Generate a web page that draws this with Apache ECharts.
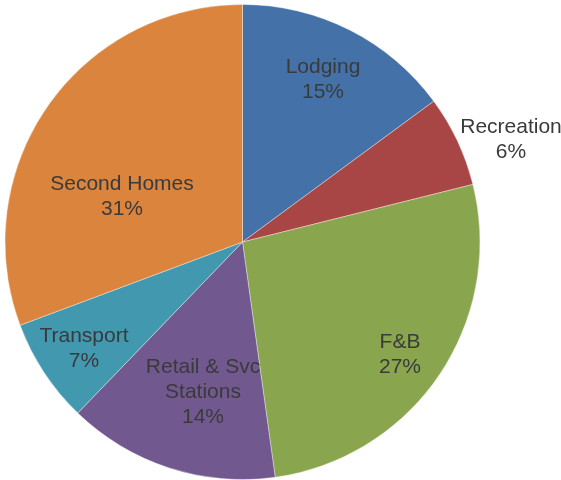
<!DOCTYPE html>
<html>
<head>
<meta charset="utf-8">
<script src="https://cdn.jsdelivr.net/npm/echarts@6/dist/echarts.min.js"></script>
<style>
  html, body { margin: 0; padding: 0; background: #fff; }
  #chart { width: 561px; height: 480px; }
</style>
</head>
<body>
<div id="chart"></div>
<script>
// Данные диаграммы (доли, %)
const categories = ['Lodging', 'Recreation', 'F&B', 'Retail & Svc\nStations', 'Transport', 'Second Homes'];
const shares = [14.9, 6.2, 26.7, 14.4, 7.1, 30.7];

const colors = ['#4472a8', '#a84645', '#89a54e', '#71588f', '#4198af', '#db843d'];
// центры подписей (в пикселях)
const labelPos = [[323, 80], [511, 140], [400, 355], [203, 392], [84, 349], [122, 197]];

const chart = echarts.init(document.getElementById('chart'));

const option = {
    animation: false,
    series: [{
        type: 'pie',
        center: [242.5, 242],
        radius: 237.5,
        startAngle: 90,
        clockwise: true,
        data: categories.map((name, i) => ({
            name: name,
            value: shares[i],
            itemStyle: { color: colors[i] }
        })),
        itemStyle: { borderColor: 'rgba(255,255,255,0.6)', borderWidth: 0.6 },
        label: {
            show: true,
            position: 'inside',
            formatter: (p) => p.name + '\n' + Math.round(p.percent) + '%',
            fontFamily: 'Liberation Sans, Arial, sans-serif',
            fontSize: 21,
            lineHeight: 25,
            color: '#3a3a3a',
            align: 'center'
        },
        labelLine: { show: false },
        labelLayout: (params) => ({
            x: labelPos[params.dataIndex][0],
            y: labelPos[params.dataIndex][1],
            align: 'center',
            verticalAlign: 'middle'
        })
    }]
};

chart.setOption(option);
</script>
</body>
</html>
